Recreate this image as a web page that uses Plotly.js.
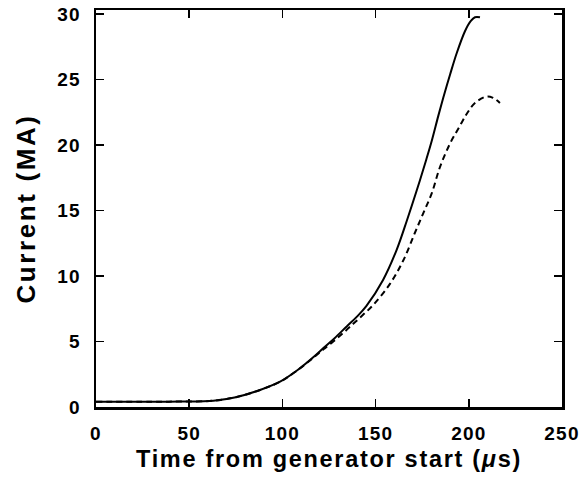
<!DOCTYPE html>
<html>
<head>
<meta charset="utf-8">
<script src="https://cdn.plot.ly/plotly-3.0.1.min.js"></script>
<style>
html,body{margin:0;padding:0;background:#fff;}
#chart{width:581px;height:480px;}
.xtitle{letter-spacing:1.7px;}
.ytitle{letter-spacing:2.6px;}
.xtick text,.ytick text{letter-spacing:1.2px;}
</style>
</head>
<body>
<div id="chart"></div>
<script>
const solidTime = [0, 30, 45, 63, 75, 88, 99, 108, 117, 122, 128, 134.5, 140, 145, 154, 161.3, 166.7, 172, 177, 180.1, 183.6, 186.3, 190, 193.5, 198, 201, 203.3, 206];
const solidCurrent = [0.4, 0.4, 0.42, 0.48, 0.75, 1.3, 1.95, 2.8, 3.85, 4.5, 5.25, 6.15, 6.9, 7.7, 9.7, 12.0, 14.2, 16.5, 18.8, 20.3, 22.2, 23.6, 25.4, 27.0, 28.7, 29.45, 29.75, 29.75];
const dashTime = [0, 30, 45, 63, 75, 88, 99, 108, 117, 122, 127.3, 133, 138, 143, 148.8, 157.7, 164.9, 171.1, 175.6, 180.1, 184.5, 189.9, 195, 199, 203.3, 209.6, 213, 216.7];
const dashCurrent = [0.4, 0.4, 0.42, 0.48, 0.75, 1.3, 1.95, 2.8, 3.8, 4.4, 5.0, 5.7, 6.35, 7.0, 7.8, 9.4, 11.2, 13.3, 14.8, 16.3, 18.3, 20.1, 21.4, 22.4, 23.2, 23.7, 23.6, 23.2];
const xTicks = [0, 50, 100, 150, 200, 250];
const yTicks = [0, 5, 10, 15, 20, 25, 30];

const font = 'Liberation Sans, Arial, sans-serif';
Plotly.newPlot('chart', [
  {x: solidTime, y: solidCurrent, mode: 'lines', line: {color: '#000', width: 2, shape: 'spline', smoothing: 1}, showlegend: false},
  {x: dashTime, y: dashCurrent, mode: 'lines', line: {color: '#000', width: 2, dash: '6px,4px', shape: 'spline', smoothing: 1}, showlegend: false}
], {
  width: 581, height: 480,
  margin: {l: 96, r: 19, t: 10, b: 73},
  paper_bgcolor: '#fff', plot_bgcolor: '#fff',
  font: {family: font, color: '#000'},
  xaxis: {
    range: [0, 250], tickvals: xTicks, ticktext: xTicks.map(String),
    ticks: 'inside', ticklen: 8, tickwidth: 1.5, tickcolor: '#000',
    showline: true, linewidth: 2.5, linecolor: '#000', mirror: 'ticks',
    showgrid: false, zeroline: false, ticklabelstandoff: 8,
    tickfont: {size: 19, family: font, weight: 'bold'},
    title: {text: 'Time from generator start (<i>μ</i>s)', font: {size: 23.5, family: font, weight: 'bold'}, standoff: 8}
  },
  yaxis: {
    range: [0, 30.3], tickvals: yTicks, ticktext: yTicks.map(String),
    ticks: 'inside', ticklen: 8, tickwidth: 1.5, tickcolor: '#000',
    showline: true, linewidth: 2.5, linecolor: '#000', mirror: 'ticks',
    showgrid: false, zeroline: false, ticklabelstandoff: 9,
    tickfont: {size: 19, family: font, weight: 'bold'},
    title: {text: 'Current (MA)\u00a0\u00a0\u00a0', font: {size: 26, family: font, weight: 'bold'}, standoff: 14}
  }
}, {displayModeBar: false, staticPlot: true});
</script>
</body>
</html>
